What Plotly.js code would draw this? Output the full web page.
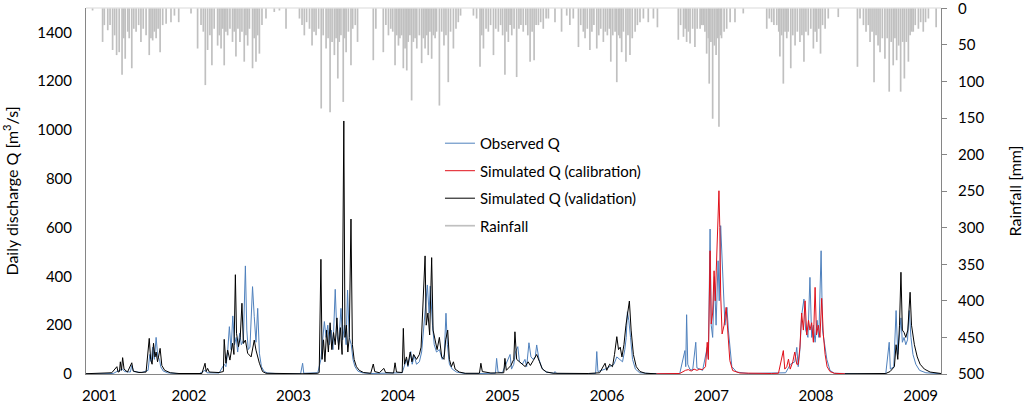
<!DOCTYPE html>
<html>
<head>
<meta charset="utf-8">
<script src="https://cdn.plot.ly/plotly-3.0.1.min.js"></script>
<style>html,body{margin:0;padding:0;background:#fff;}#chart{width:1024px;height:403px;}</style>
</head>
<body>
<div id="chart"></div>
<script>
// Day numbers are days since 2001-01-01 (daily record)
const obsDay = [0,100,113,125,133,140,160,165,172,200,222,228,233,238,244,250,256,262,266,275,290,330,
 400,421,428,470,488,494,500,506,512,518,524,530,535,542,548,555,562,567,572,578,587,593,599,605,611,618,628,640,680,
 755,762,766,815,826,832,838,844,850,856,862,868,876,882,888,896,902,908,914,919,925,932,938,945,955,970,1000,
 1110,1118,1125,1130,1140,1145,1152,1160,1170,1178,1186,1192,1198,1204,1208,1216,1222,1230,1240,1250,1257,1263,1268,1275,1285,1300,1330,
 1380,1436,1440,1445,1460,1487,1492,1500,1506,1514,1520,1530,1539,1545,1553,1560,1568,1575,1580,1588,1598,1612,1640,1644,1650,
 1760,1786,1790,1794,1819,1835,1850,1860,1870,1880,1888,1893,1897,1902,1908,1915,1925,1940,1990,
 2080,2098,2101,2104,2108,2115,2125,2136,2140,2160,2176,2180,2186,2190,2195,2201,2207,2214,2218,2223,2230,2238,2245,2250,2262,2279,2320,
 2425,2450,2467,2482,2489,2494,2500,2506,2514,2520,2528,2535,2541,2547,2553,2560,2566,2574,2579,2586,2594,2605,2620,2700,
 2800,2812,2816,2828,2836,2842,2848,2853,2858,2864,2870,2876,2882,2888,2895,2905,2918,2940,2993];
const obsQ = [0,2,10,15,20,10,8,35,10,6,15,80,50,110,60,150,70,60,30,12,5,1,
 1,15,5,4,40,30,90,194,100,238,120,150,90,167,120,139,443,180,100,110,358,235,130,269,85,30,10,4,1,
 1,44,3,5,60,130,215,150,200,120,180,100,347,160,120,269,140,200,120,344,150,120,60,30,12,5,2,
 5,30,60,30,92,40,75,40,50,90,200,280,365,250,360,200,120,90,100,60,80,249,120,40,20,8,2,
 2,3,64,8,5,80,20,40,90,112,50,40,60,30,128,70,60,70,119,60,25,8,3,10,2,
 1,2,92,10,20,30,40,70,60,50,100,150,255,220,150,60,20,5,1,
 2,96,30,243,40,20,15,130,25,15,109,60,594,200,150,399,200,464,300,608,396,200,273,180,30,8,2,
 2,5,40,50,109,30,100,240,307,180,150,396,150,200,130,220,150,505,180,120,60,15,3,1,
 1,130,20,30,260,80,150,230,130,150,120,140,260,150,80,40,15,5,1];

const calDay = [1999,2080,2100,2110,2120,2130,2140,2150,2160,2170,2176,2180,2186,2190,2195,2200,2204,2210,2217,2220,2223,2228,2235,2242,2247,2255,2265,2290,
 2400,2425,2442,2447,2454,2460,2466,2475,2482,2489,2494,2500,2506,2512,2518,2524,2530,2535,2541,2547,2553,2558,2564,2570,2576,2582,2588,2595,2605,2620,2657];
const calQ = [1,2,15,18,12,20,15,20,18,30,130,60,505,205,250,423,300,550,751,600,328,164,200,273,191,55,14,4,
 2,3,96,20,30,61,20,50,90,40,40,110,250,180,300,160,220,180,210,130,355,160,200,150,310,160,80,30,10,3,1];

const valDay = [0,60,95,113,117,122,125,129,133,138,150,165,170,190,215,226,231,236,241,246,250,255,264,270,280,300,330,
 410,421,425,430,436,470,485,488,494,500,508,517,522,527,531,538,544,550,555,562,570,582,593,599,611,622,634,700,
 760,815,820,826,830,835,840,846,852,858,864,870,876,882,888,894,900,906,910,915,920,925,931,936,942,950,960,975,1000,
 1009,1014,1030,1046,1052,1080,1085,1090,1110,1114,1118,1125,1130,1138,1144,1150,1160,1170,1176,1184,1190,1194,1200,1206,1213,1218,1225,1232,1240,1248,1256,1262,1269,1275,1282,1289,1295,1310,1330,
 1380,1385,1390,1420,1465,1469,1474,1490,1500,1504,1510,1520,1530,1540,1550,1558,1568,1580,1590,1600,1615,1640,
 1760,1800,1819,1825,1835,1845,1852,1860,1866,1872,1878,1885,1892,1897,1904,1910,1918,1928,1941,1960,1999,
 2300,
 2657,2800,2815,2830,2836,2842,2848,2853,2858,2864,2870,2877,2885,2890,2900,2910,2920,2935,2955,2993];
const valQ = [1,2,5,30,8,10,50,15,67,20,8,46,12,6,8,146,60,40,126,70,90,50,105,35,15,5,2,
 2,44,10,23,8,6,10,142,44,98,57,126,80,407,167,112,150,290,125,139,85,70,139,98,44,10,3,1,
 1,3,6,470,60,140,50,180,90,210,100,170,120,230,100,190,80,1037,150,200,90,150,635,120,60,30,15,6,3,
 41,10,5,23,6,4,46,8,6,187,40,70,35,90,50,80,60,80,110,295,484,200,250,160,477,180,140,100,150,70,60,140,180,60,30,50,20,8,3,
 3,44,10,4,5,64,15,35,60,173,60,50,40,30,50,35,55,80,50,20,8,3,
 2,5,44,15,40,30,80,153,100,110,70,120,200,250,299,180,80,30,10,3,1,
 null,
 1,2,10,30,120,60,200,417,180,170,150,180,335,200,120,70,40,20,8,2];

const rainDay = [28,63,69,81,89,98,105,112,121,131,137,142,151,156,165,172,180,189,197,205,215,226,232,238,244,250,257,264,273,285,302,314,329,372,
 395,407,415,422,430,438,445,453,465,471,477,483,488,494,500,508,517,523,529,536,543,550,558,564,570,576,587,593,599,605,611,620,634,663,681,704,
 751,760,768,776,786,795,802,809,818,827,834,844,851,858,865,873,879,885,890,896,904,909,914,922,931,937,946,954,
 1009,1018,1044,1053,1062,1070,1077,1085,1091,1097,1102,1108,1114,1120,1126,1131,1137,1143,1149,1155,1161,1170,1178,1184,1190,1196,1201,1207,1213,1219,1225,1230,1240,1248,1256,1263,1271,1279,1289,1298,1306,1314,
 1359,1370,1382,1388,1394,1403,1411,1419,1429,1437,1446,1454,1461,1469,1475,1481,1487,1493,1501,1510,1518,1525,1533,1542,1549,1557,1564,1571,1578,1586,1594,1603,1613,1621,1644,
 1667,1685,1696,1708,1726,1734,1743,1749,1757,1766,1773,1780,1790,1797,1804,1813,1820,1827,1834,1839,1846,1854,1860,1867,1871,1877,1883,1892,1899,1906,1914,1924,1932,1941,1953,1970,1988,2002,
 2075,2083,2093,2099,2104,2110,2116,2125,2133,2141,2151,2157,2162,2168,2174,2180,2183,2189,2195,2201,2207,2213,2217,2223,2226,2235,2244,2256,2273,2302,
 2384,2393,2401,2409,2419,2426,2430,2436,2442,2448,2454,2459,2468,2475,2483,2491,2500,2507,2514,2521,2529,2538,2547,2553,2559,2566,2572,2579,2588,2599,2634,
 2701,2710,2722,2731,2739,2745,2752,2759,2766,2773,2780,2788,2797,2805,2812,2819,2826,2832,2838,2845,2852,2859,2865,2872,2879,2885,2891,2896,2903,2914,2922,2931,2939,2949,2976];
const rainMm = [3,46,23,30,23,57,37,64,60,91,41,69,32,41,82,28,32,23,46,28,37,64,41,44,32,41,28,60,23,21,19,10,19,7,
 55,23,32,105,57,37,78,28,51,37,55,28,78,32,37,28,46,32,66,28,46,32,73,37,51,28,82,41,73,37,62,23,14,5,3,28,
 14,23,37,19,28,51,32,37,28,137,37,55,41,142,46,64,41,96,46,37,128,41,60,32,78,28,23,46,
 71,28,60,23,37,28,32,78,37,51,41,37,82,55,85,46,37,126,46,41,55,37,75,41,55,37,64,32,69,37,41,32,133,32,51,37,101,32,55,28,19,10,
 10,14,80,37,55,28,32,23,64,28,32,23,37,91,32,46,23,37,28,94,28,23,32,23,37,73,32,71,23,23,19,28,14,14,19,
 32,10,23,14,53,23,32,41,28,57,32,23,55,37,28,46,32,37,28,73,37,32,101,37,41,60,32,73,37,64,41,32,23,19,14,19,14,26,
 43,23,39,28,46,32,48,28,53,28,28,23,23,32,62,41,103,46,151,51,64,41,162,37,41,32,28,19,19,7,
 28,14,19,23,23,32,66,37,103,32,41,32,82,37,51,32,46,37,73,32,37,28,55,32,46,28,62,23,28,14,12,
 80,14,23,32,23,46,32,101,37,51,60,41,69,41,114,46,78,41,71,51,114,46,96,46,73,37,32,32,23,28,19,32,19,14,26];

const xTickVals = ['2001-02-22','2002-01-01','2003-01-01','2004-01-01','2005-01-01','2006-01-01','2007-01-01','2008-01-01','2009-01-01'];
const xTickText = ['2001','2002','2003','2004','2005','2006','2007','2008','2009'];
const qTicks = [0,200,400,600,800,1000,1200,1400];
const rainTicks = [0,50,100,150,200,250,300,350,400,450,500];

const base = Date.UTC(2001,0,1);
function toDate(d){ return new Date(base + d*86400000).toISOString().slice(0,10); }

// rainfall as one vertical stroke per day
const rx = [], ry = [];
rainDay.forEach((d,i)=>{ const t = toDate(d); rx.push(t,t,null); ry.push(0,rainMm[i],null); });

const FONT = 'Lato, "Open Sans", sans-serif';
const traces = [
  {x: rx, y: ry, yaxis:'y2', type:'scatter', mode:'lines', name:'Rainfall', line:{color:'#c0c0c0', width:1.7}, legendrank:4, legendgroup:'d', connectgaps:false, hoverinfo:'skip'},
  {x: obsDay.map(toDate), y: obsQ, type:'scatter', mode:'lines', name:'Observed Q', line:{color:'#4f81bd', width:1}, legendrank:1, legendgroup:'a'},
  {x: valDay.map(toDate), y: valQ, type:'scatter', mode:'lines', name:'Simulated Q (validation)', line:{color:'#000000', width:1}, legendrank:3, legendgroup:'c', connectgaps:false},
  {x: calDay.map(toDate), y: calQ, type:'scatter', mode:'lines', name:'Simulated Q (calibration)', line:{color:'#e0101a', width:1}, legendrank:2, legendgroup:'b'}
];

const axCol = '#868686';
const layout = {
  width:1024, height:403,
  margin:{l:86, r:83, t:8, b:29},
  paper_bgcolor:'#fff', plot_bgcolor:'#fff',
  font:{family:FONT, size:15, color:'#000'},
  showlegend:true,
  legend:{x:0.414, y:0.675, xanchor:'left', yanchor:'top', bgcolor:'rgba(0,0,0,0)', font:{size:15, family:FONT}, traceorder:'grouped', tracegroupgap:5},
  xaxis:{type:'date', range:[toDate(5), toDate(2993)], showline:true, linecolor:axCol, linewidth:1, showgrid:false, zeroline:false,
    ticks:'', tickvals:xTickVals, ticktext:xTickText, tickfont:{size:15, family:FONT}, ticklabelstandoff:8, automargin:false},
  yaxis:{range:[0,1500], tickvals:qTicks, showline:true, linecolor:axCol, linewidth:1, showgrid:false, zeroline:false, ticks:'',
    tickfont:{size:15, family:FONT}, ticklabelstandoff:10, automargin:false,
    title:{text:'Daily discharge Q [m<sup>3</sup>/s]', font:{size:16, family:FONT}, standoff:20}},
  yaxis2:{overlaying:'y', side:'right', range:[500,-0.4], tickvals:rainTicks, showline:true, linecolor:axCol, linewidth:1, showgrid:false, zeroline:false,
    ticks:'outside', ticklen:5, tickcolor:axCol, tickfont:{size:15, family:FONT}, ticklabelstandoff:8, automargin:false, ticklabeloverflow:'allow',
    title:{text:'Rainfall [mm]', font:{size:16, family:FONT}, standoff:27}},
  shapes:[{type:'line', xref:'paper', yref:'paper', x0:0, x1:1, y0:1, y1:1, line:{color:'#d9d9d9', width:1}}]
};
Plotly.newPlot('chart', traces, layout, {displayModeBar:false, staticPlot:true});
</script>
</body>
</html>
